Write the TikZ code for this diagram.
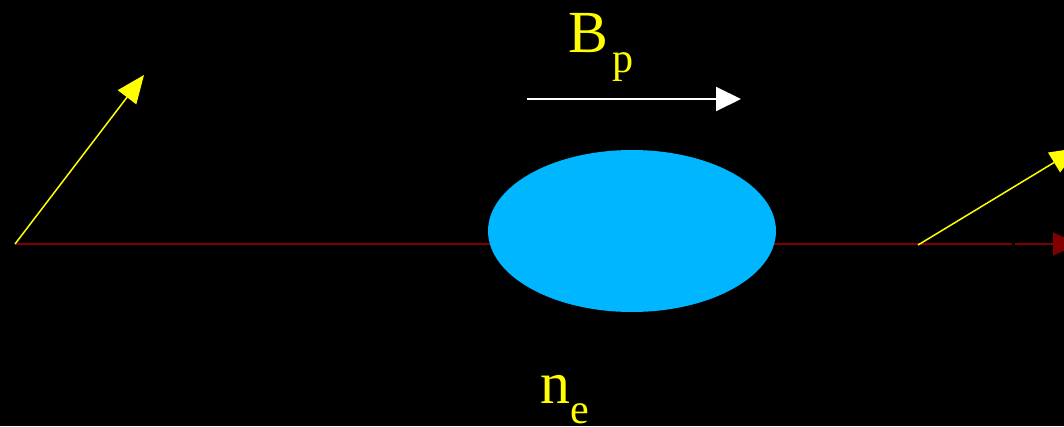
\documentclass[tikz,border=0pt]{standalone}
\usepackage{fontspec}
\setmainfont{Liberation Serif}
\usepackage{tikz}
\usetikzlibrary{arrows.meta, calc, positioning, shapes.geometric}
\usepackage{xcolor}
\definecolor{plasmablue}{RGB}{0,183,255}
\definecolor{losred}{RGB}{128,0,0}
\definecolor{rayyellow}{RGB}{255,255,0}

\begin{document}
\begin{tikzpicture}[x=0.02cm, y=-0.02cm,
    ray/.style={rayyellow, line width=0.85pt, -{Triangle[length=0.56cm, width=0.46cm]}},
    sightline/.style={losred, line width=1.1pt},
    label/.style={rayyellow, inner sep=0pt, anchor=base west}]
    % black sky, fixes the size too
    \fill[black] (0,0) rectangle (1064,426);
    \clip (0,0) rectangle (1064,426);
    % line of sight, behind the cloud
    \coordinate (src) at (15,244);
    \coordinate (gapa) at (1012,244);
    \coordinate (gapb) at (1015,244);
    \coordinate (obs) at (1078,244);
    \draw[sightline] (src) -- (gapa);
    \draw[sightline, -{Triangle[length=0.5cm, width=0.46cm]}] (gapb) -- (obs);
    % the plasma cloud
    \node[ellipse, fill=plasmablue, minimum width=5.76cm, minimum height=3.24cm, inner sep=0pt] (cloud) at (632,231) {};
    % polarisation before and after
    \coordinate (pin) at (144,75);
    \draw[ray] (src) -- (pin);
    \coordinate (rotstart) at (918,245);
    \coordinate (pout) at (1078,148);
    \draw[ray] (rotstart) -- (pout);
    % field along the line
    \coordinate (bstart) at (527,99);
    \coordinate (bend) at (741,99);
    \draw[white, line width=1.1pt, -{Triangle[length=0.5cm, width=0.48cm]}] (bstart) -- (bend);
    \node[label] (bfield) at (568,52) {\fontsize{34}{34}\selectfont B\hspace{0.08cm}\raisebox{-0.42cm}{\fontsize{24}{24}\selectfont p}};
    \node[label] (dens) at (540,403) {\fontsize{34}{34}\selectfont n\raisebox{-0.4cm}{\fontsize{24}{24}\selectfont e}};
\end{tikzpicture}
\end{document}
